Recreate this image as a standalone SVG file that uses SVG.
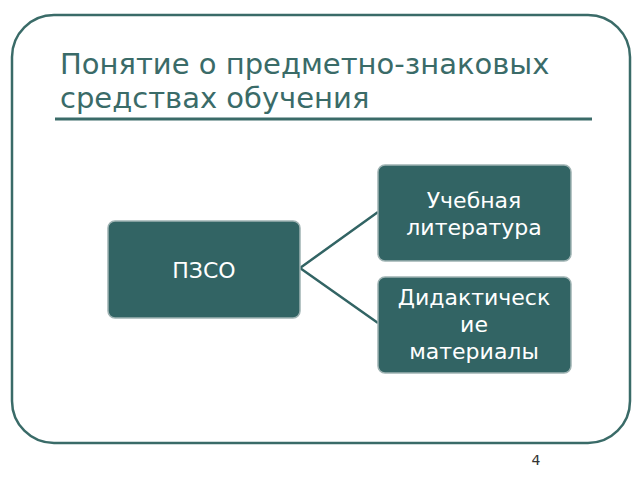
<svg xmlns="http://www.w3.org/2000/svg" width="640" height="480" viewBox="0 0 640 480">
<style>
.n{fill:#326464;stroke:#9fb3b3;stroke-width:1.5}
.t{fill:#fff;font-family:"DejaVu Sans",sans-serif;font-size:22px;text-anchor:middle}
.c{stroke:#326464;stroke-width:2.5;fill:none}
</style>
<rect width="640" height="480" fill="#fff"/>
<rect x="12" y="15" width="618" height="428" rx="42" fill="#fff" stroke="#3a6b68" stroke-width="2.5"/>
<text font-family="DejaVu Sans,sans-serif" font-size="29" fill="#3a6b68"><tspan x="60" y="74">Понятие о предметно-знаковых</tspan><tspan x="60" y="108">средствах обучения</tspan></text>
<line x1="55" y1="119" x2="592" y2="119" stroke="#3a6b68" stroke-width="3"/>
<g id="connectors">
<path class="c" d="M300 268 L378 212 M300 268 L378 323"/>
</g>
<g id="pzso"><rect class="n" x="108" y="221" width="192" height="97" rx="7"/><text class="t" x="204" y="278">ПЗСО</text></g>
<g id="lit"><rect class="n" x="378" y="165" width="193" height="96" rx="7"/><text class="t" x="474" y="208">Учебная</text><text class="t" x="474" y="235">литература</text></g>
<g id="did"><rect class="n" x="378" y="277" width="193" height="96" rx="7"/><text class="t" x="474" y="305">Дидактическ</text><text class="t" x="474" y="332">ие</text><text class="t" x="474" y="359">материалы</text></g>
<text x="536" y="465" font-family="DejaVu Sans,sans-serif" font-size="14" fill="#333" text-anchor="middle">4</text>
</svg>
